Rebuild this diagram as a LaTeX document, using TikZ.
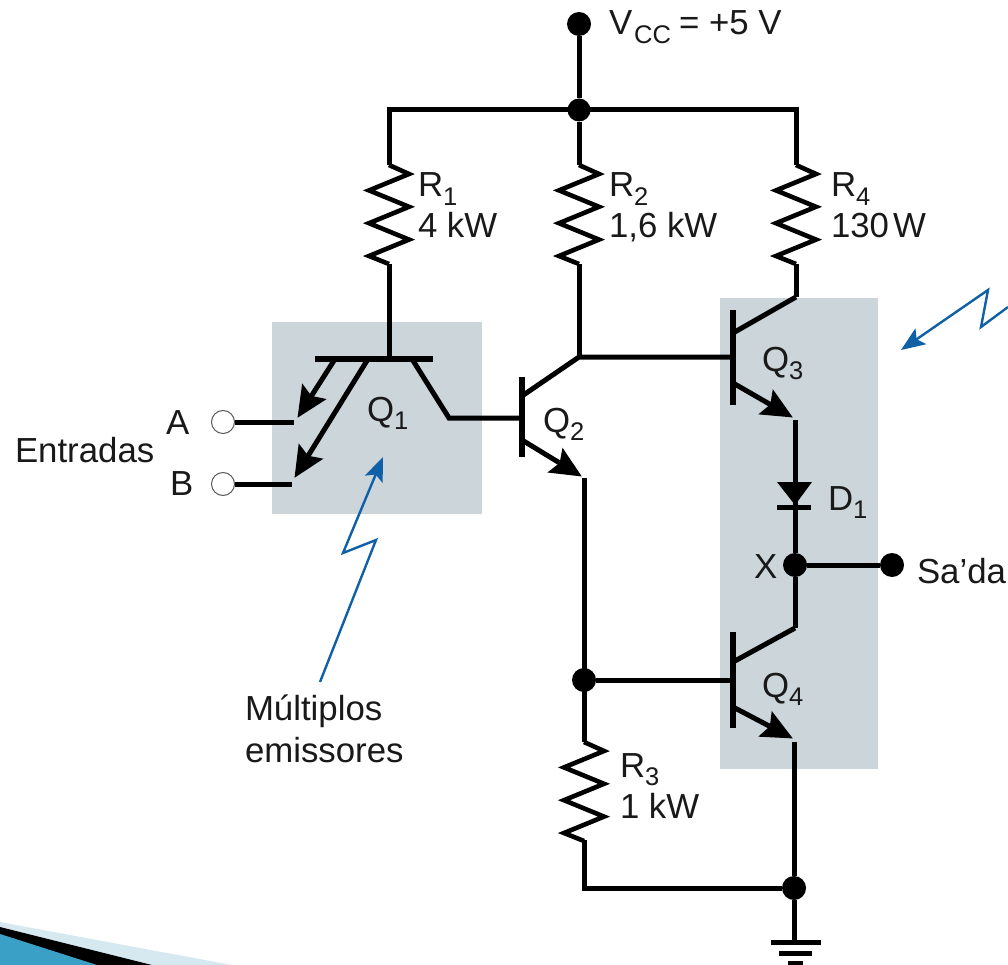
\documentclass[tikz,border=0pt]{standalone}
\usepackage{fontspec}
\setmainfont{Liberation Sans}
\usetikzlibrary{arrows.meta}
\definecolor{shade}{RGB}{203,213,218}
\definecolor{bluearrow}{RGB}{16,96,168}
\definecolor{swooshlight}{RGB}{214,233,241}
\definecolor{swooshblue}{RGB}{58,160,197}
\newcommand{\lsub}[1]{{\fontsize{25.5}{25.5}\selectfont\raisebox{-8.5pt}{#1}}}
\newcommand{\zigpath}{-- ++(20,9) -- ++(-40,16.4) -- ++(40,16.4) -- ++(-40,16.4) -- ++(40,16.4) -- ++(-40,16.4) -- ++(20,8)}
\tikzset{
  wire/.style={line width=5pt,line join=miter,line cap=butt},
  thinwire/.style={line width=4.6pt,line join=miter},
  bjtbar/.style={line width=5.5pt},
  emit/.style={line width=5pt,-{Stealth[length=31pt,width=28pt,inset=5pt]},shorten >=-1pt},
  dot/.style={circle,fill=black,draw=none,minimum size=24pt,inner sep=0pt},
  term/.style={circle,fill=white,draw=black!65,line width=1pt,minimum size=23pt,inner sep=0pt},
  lab/.style={anchor=base west,inner sep=0pt,outer sep=0pt,font=\fontsize{34.8}{36}\selectfont,text=black!90},
  callout/.style={line width=2.4pt,draw=bluearrow,line join=miter,-{Stealth[length=24pt,width=19pt,inset=5pt,bluearrow]}},
  shadebox/.style={fill=shade,draw=none}
}
\begin{document}
\begin{tikzpicture}[x=1pt,y=-1pt]
\useasboundingbox (0,0) rectangle (1008,965);
% corner ornament
\fill[swooshlight] (0,922) -- (232,965) -- (0,965) -- cycle;
\fill[black] (0,927) -- (152,965) -- (0,965) -- cycle;
\fill[swooshblue] (0,934) -- (97,965) -- (0,965) -- cycle;
% shaded boxes
\fill[shadebox] (272,322) rectangle (482,514);
\fill[shadebox] (720,298) rectangle (878,769);
% coordinates
\coordinate (q1bl) at (315,359);
\coordinate (q1br) at (433,359);
\coordinate (q1b) at (389,359);
\coordinate (q1c) at (412,359);
\coordinate (q1k) at (449,418);
\coordinate (q1e1) at (335,359);
\coordinate (q1t1) at (298,417);
\coordinate (q1e2) at (368,359);
\coordinate (q1t2) at (295,477);
\coordinate (q2bt) at (522,377);
\coordinate (q2bb) at (522,457);
\coordinate (q2b) at (522,418);
\coordinate (q2c0) at (522,396);
\coordinate (q2c) at (579,357);
\coordinate (q2e0) at (522,440);
\coordinate (q2t) at (581,476);
\coordinate (q3bt) at (733,310);
\coordinate (q3bb) at (733,405);
\coordinate (q3b) at (733,357);
\coordinate (q3c0) at (733,333);
\coordinate (q3c) at (796,297);
\coordinate (q3e0) at (733,383);
\coordinate (q3t) at (792,417);
\coordinate (q4bt) at (733,632);
\coordinate (q4bb) at (733,728);
\coordinate (q4b) at (733,680);
\coordinate (q4c0) at (733,662);
\coordinate (q4c) at (795,628);
\coordinate (q4e0) at (733,707);
\coordinate (q4t) at (792,738);
\coordinate (r1t) at (389,165);
\coordinate (r1b) at (389,264);
\coordinate (r2t) at (579,165);
\coordinate (r2b) at (579,264);
\coordinate (r4t) at (796,165);
\coordinate (r4b) at (796,264);
\coordinate (r3t) at (584,742);
\coordinate (r3b) at (584,840);
\coordinate (tl) at (389,110);
\coordinate (tr) at (796,110);
\coordinate (w2t) at (584,478);
\coordinate (w3t) at (795,420);
\coordinate (w4t) at (794,742);
\coordinate (ain) at (294,422);
\coordinate (bin) at (292,484);
\coordinate (dl) at (777,482);
\coordinate (dr) at (812,482);
\coordinate (dtip) at (795,505);
\coordinate (dbl) at (777,507);
\coordinate (dbr) at (811,507);
\coordinate (g1l) at (771,942);
\coordinate (g1r) at (821,942);
\coordinate (g1) at (794,942);
\coordinate (g2l) at (779,953);
\coordinate (g2r) at (812,953);
\coordinate (g3l) at (788,963);
\coordinate (g3r) at (803,963);
\coordinate (bot) at (584,888);
% junctions
\node[dot] (vcc) at (579,24) {};
\node[dot,minimum size=23pt] (jtop) at (579,110) {};
\node[dot] (jx) at (795,565) {};
\node[dot] (out) at (892,565) {};
\node[dot] (jb4) at (584,680) {};
\node[dot] (jg) at (794,888) {};
\node[term] (a) at (223,422) {};
\node[term] (b) at (223,484) {};
% wires
\draw[wire] (vcc) -- (jtop);
\draw[wire] (r1t) -- (tl) -- (tr) -- (r4t);
\draw[wire] (jtop) -- (r2t);
\draw[thinwire] (r1t) \zigpath;
\draw[thinwire] (r2t) \zigpath;
\draw[thinwire] (r4t) \zigpath;
\draw[thinwire] (r3t) \zigpath;
\draw[wire] (r1b) -- (q1b);
\draw[wire] (r2b) -- (q2c);
\draw[wire] (r4b) -- (q3c);
\draw[bjtbar] (q1bl) -- (q1br);
\draw[wire] (q1c) -- (q1k) -- (q2b);
\draw[emit] (q1e1) -- (q1t1);
\draw[emit] (q1e2) -- (q1t2);
\draw[wire] (a) -- (ain);
\draw[wire] (b) -- (bin);
\draw[bjtbar] (q2bt) -- (q2bb);
\draw[wire] (q2c0) -- (q2c) -- (q3b);
\draw[emit] (q2e0) -- (q2t);
\draw[wire] (w2t) -- (r3t);
\draw[wire] (r3b) -- (bot) -- (jg);
\draw[bjtbar] (q3bt) -- (q3bb);
\draw[wire] (q3c0) -- (q3c);
\draw[emit] (q3e0) -- (q3t);
\draw[wire] (w3t) -- (jx);
\fill[black] (dl) -- (dr) -- (dtip) -- cycle;
\draw[wire] (dbl) -- (dbr);
\draw[wire] (jx) -- (out);
\draw[wire] (jx) -- (q4c);
\draw[bjtbar] (q4bt) -- (q4bb);
\draw[wire] (q4c0) -- (q4c);
\draw[emit] (q4e0) -- (q4t);
\draw[wire] (jb4) -- (q4b);
\draw[wire] (w4t) -- (jg);
\draw[wire] (jg) -- (g1);
\draw[wire] (g1l) -- (g1r);
\draw[wire] (g2l) -- (g2r);
\draw[wire] (g3l) -- (g3r);
% callouts
\coordinate (c1a) at (320,682);
\coordinate (c1b) at (376,540);
\coordinate (c1c) at (343,553);
\coordinate (c1d) at (383,457);
\draw[callout] (c1a) -- (c1b) -- (c1c) -- (c1d);
\coordinate (c2a) at (1008,307);
\coordinate (c2b) at (981,327);
\coordinate (c2c) at (988,290);
\coordinate (c2d) at (901,350);
\draw[callout] (c2a) -- (c2b) -- (c2c) -- (c2d);
% labels
\node[lab] (lvcc) at (609,35) {V\hspace{2pt}\lsub{CC}\hspace{8pt}= +5 V};
\node[lab] (lr1) at (418,197) {R\lsub{1}};
\node[lab] (lr1v) at (418,238) {4 kW};
\node[lab] (lr2) at (609,197) {R\lsub{2}};
\node[lab] (lr2v) at (609,238) {1,6 kW};
\node[lab] (lr4) at (831,197) {R\lsub{4}};
\node[lab] (lr4v) at (831,238) {130\hspace{4pt}W};
\node[lab] (lr3) at (620,777) {R\lsub{3}};
\node[lab] (lr3v) at (620,818) {1 kW};
\node[lab] (lq1) at (367,421) {Q\lsub{1}};
\node[lab] (lq2) at (543,432) {Q\lsub{2}};
\node[lab] (lq3) at (762,371) {Q\lsub{3}};
\node[lab] (lq4) at (762,697) {Q\lsub{4}};
\node[lab] (ld1) at (828,510) {D\lsub{1}};
\node[lab] (lx) at (754,578) {X};
\node[lab] (lout) at (917,583) {Sa’da};
\node[lab] (la) at (166,434) {A};
\node[lab] (lb) at (170,495) {B};
\node[lab] (lin) at (15,462) {Entradas};
\node[lab] (lm1) at (245,720) {Múltiplos};
\node[lab] (lm2) at (245,762) {emissores};
\end{tikzpicture}
\end{document}
